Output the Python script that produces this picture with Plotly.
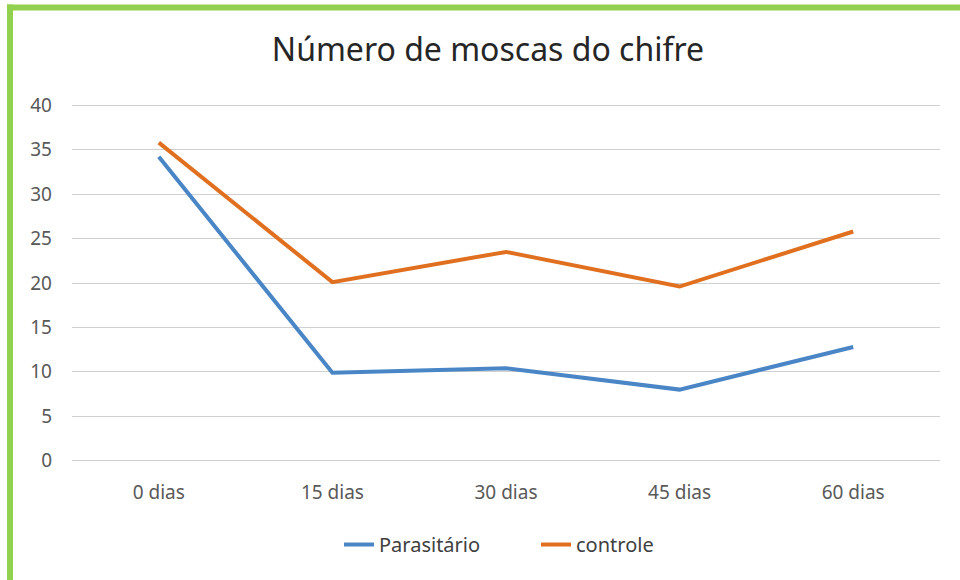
import plotly.graph_objects as go

categories = ["0 dias", "15 dias", "30 dias", "45 dias", "60 dias"]
parasitario = [34.2, 9.9, 10.4, 8.0, 12.8]
controle = [35.8, 20.1, 23.5, 19.6, 25.8]
y_ticks = [0, 5, 10, 15, 20, 25, 30, 35, 40]

FONT = "Noto Sans"
W, H = 960, 580
# desired plot area in page pixels: x 72..940, y(40)=105, y(0)=461
PX_L, PX_R, PX_Y40, PX_Y0 = 72, 940, 105, 461
unit = (PX_Y0 - PX_Y40) / 40.0
PAD = 0.15
L = PX_L
R = W - PX_R
T = PX_Y40 - PAD * unit
B = H - (PX_Y0 + PAD * unit)
pw, ph = W - L - R, H - T - B


def px_x(p):
    return (p - L) / pw


def px_y(p):
    return (H - B - p) / ph


fig = go.Figure()
fig.add_trace(go.Scatter(x=categories, y=parasitario, mode="lines", name="Parasitário",
                         line=dict(color="#4A86C6", width=4)))
fig.add_trace(go.Scatter(x=categories, y=controle, mode="lines", name="controle",
                         line=dict(color="#E0701F", width=4)))

green = "#92D050"
fig.add_shape(type="rect", xref="paper", yref="paper",
              x0=px_x(7), x1=px_x(13), y0=px_y(600), y1=px_y(4),
              fillcolor=green, line=dict(width=0), layer="above")
fig.add_shape(type="rect", xref="paper", yref="paper",
              x0=px_x(7), x1=px_x(975), y0=px_y(10), y1=px_y(4),
              fillcolor=green, line=dict(width=0), layer="above")

fig.update_layout(
    width=W, height=H,
    margin=dict(l=L, r=R, t=T, b=B),
    paper_bgcolor="white", plot_bgcolor="white",
    font=dict(family=FONT, color="#595959", size=19),
    title=dict(text="Número de moscas do chifre", x=488 / W, xanchor="center",
               y=1 - 50 / H, yanchor="middle",
               font=dict(family=FONT, size=32, color="#262626")),
    showlegend=True,
    legend=dict(orientation="h", x=px_x(536), xanchor="center",
                y=px_y(545), yanchor="middle", entrywidth=152,
                font=dict(family=FONT, size=20, color="#404040")),
    xaxis=dict(showgrid=False, showline=False, ticks="", zeroline=False,
               ticklabelstandoff=17, range=[-0.5, 4.5], fixedrange=True),
    yaxis=dict(range=[-PAD, 40 + PAD], tickvals=y_ticks, showgrid=True, gridcolor="#D0D0D0",
               gridwidth=1.3, zeroline=False, showline=False, ticks="",
               ticklabelstandoff=int(round(20 - PAD * unit))),
)

fig.write_html("out.html", config={"displayModeBar": False},
               post_script="document.body.style.margin='0px';")
